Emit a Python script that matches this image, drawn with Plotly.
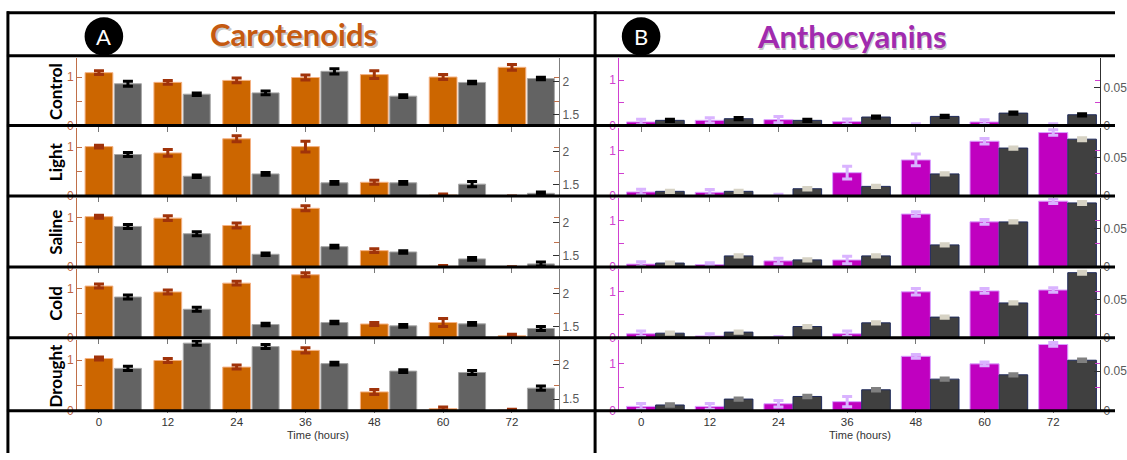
import plotly.graph_objects as go

W, H = 1127, 460

times = [0, 12, 24, 36, 48, 60, 72]
conditions = ["Control", "Light", "Saline", "Cold", "Drought"]
time_labels = ["0", "12", "24", "36", "48", "60", "72"]

# Panel A - carotenoids (orange, left axis) and grey series (right axis)
car_vals = [
    [1.09, 0.89, 0.93, 0.99, 1.05, 1.00, 1.20],
    [1.01, 0.88, 1.17, 1.01, 0.28, 0.02, 0.00],
    [1.02, 0.99, 0.84, 1.19, 0.33, 0.01, 0.00],
    [1.05, 0.93, 1.11, 1.28, 0.28, 0.31, 0.04],
    [1.03, 0.99, 0.86, 1.19, 0.37, 0.04, 0.01],
]
car_errs = [
    [0.04, 0.04, 0.05, 0.05, 0.08, 0.05, 0.06],
    [0.03, 0.07, 0.06, 0.11, 0.04, 0.02, 0.00],
    [0.03, 0.05, 0.05, 0.05, 0.04, 0.02, 0.00],
    [0.04, 0.04, 0.04, 0.04, 0.03, 0.08, 0.03],
    [0.03, 0.04, 0.04, 0.05, 0.05, 0.03, 0.02],
]
car_grey = [
    [1.97, 1.81, 1.83, 2.16, 1.78, 1.99, 2.05],
    [1.96, 1.63, 1.665, 1.53, 1.53, 1.51, 1.37],
    [1.94, 1.83, 1.52, 1.635, 1.555, 1.45, 1.375],
    [1.945, 1.76, 1.53, 1.56, 1.51, 1.54, 1.47],
    [1.95, 2.32, 2.27, 2.02, 1.91, 1.89, 1.66],
]
car_grey_errs = [
    [0.04, 0.02, 0.03, 0.04, 0.02, 0.02, 0.02],
    [0.03, 0.02, 0.02, 0.02, 0.02, 0.04, 0.02],
    [0.03, 0.03, 0.02, 0.02, 0.02, 0.02, 0.03],
    [0.03, 0.03, 0.02, 0.02, 0.02, 0.02, 0.03],
    [0.03, 0.03, 0.03, 0.02, 0.02, 0.03, 0.03],
]

# Panel B - anthocyanins (magenta, left axis) and dark series (right axis)
anth_vals = [
    [0.08, 0.115, 0.13, 0.087, 0.01, 0.08, 0.01],
    [0.087, 0.08, 0.01, 0.51, 0.79, 1.20, 1.39],
    [0.06, 0.05, 0.13, 0.15, 1.15, 0.98, 1.43],
    [0.087, 0.04, 0.01, 0.087, 1.00, 1.02, 1.04],
    [0.09, 0.09, 0.146, 0.19, 1.15, 0.99, 1.40],
]
anth_errs = [
    [0.06, 0.06, 0.07, 0.06, 0.03, 0.05, 0.03],
    [0.06, 0.06, 0.03, 0.14, 0.13, 0.06, 0.06],
    [0.05, 0.04, 0.06, 0.08, 0.05, 0.05, 0.05],
    [0.06, 0.05, 0.02, 0.06, 0.07, 0.05, 0.05],
    [0.06, 0.06, 0.07, 0.11, 0.04, 0.04, 0.04],
]
anth_grey = [
    [0.0069, 0.0091, 0.0069, 0.0113, 0.0121, 0.0165, 0.0143],
    [0.0061, 0.0061, 0.0095, 0.0126, 0.029, 0.063, 0.0747],
    [0.005, 0.0143, 0.0091, 0.0143, 0.0287, 0.0587, 0.0835],
    [0.006, 0.0074, 0.0147, 0.0195, 0.027, 0.0455, 0.085],
    [0.0072, 0.0147, 0.018, 0.0265, 0.04, 0.0455, 0.064],
]
anth_grey_errs = [
    [0.0015, 0.0015, 0.0015, 0.0015, 0.0015, 0.0015, 0.0015],
    [0.0015, 0.0015, 0.0015, 0.0015, 0.0015, 0.0015, 0.002],
    [0.0015, 0.0015, 0.0015, 0.0015, 0.0015, 0.0015, 0.002],
    [0.0015, 0.0015, 0.0015, 0.0015, 0.0015, 0.0015, 0.002],
    [0.0015, 0.0015, 0.0015, 0.0015, 0.0015, 0.0015, 0.0015],
]
anth_grey_err_colors = ["#000000", "#D6D2C4", "#D6D2C4", "#D6D2C4", "#808080"]

ORANGE = "#CC6600"
ORANGE_AX = "#C0704A"
MAGENTA = "#C000C0"
MAGENTA_AX = "#D040D0"
TFONT = "Liberation Sans, Arial, sans-serif"


def px_x(v):
    return v / W


def px_y(v):
    return 1 - v / H


row_lines = [56.5, 127.5, 199, 271, 343, 417]
xA = (78, 565)
xB = (626, 1112)

fig = go.Figure()
layout = {}


def axname(prefix, k):
    return prefix if k == 1 else f"{prefix}{k}"


for r in range(5):
    top = row_lines[r] + 2
    bot = row_lines[r + 1]
    ydom = [px_y(bot), px_y(top)]
    for p in range(2):
        k = r * 2 + p + 1
        k2 = k + 10
        xr = axname("x", k)
        yr = axname("y", k)
        yr2 = axname("y", k2)
        xdom = xA if p == 0 else xB
        if p == 0:
            v, e, g, ge = car_vals[r], car_errs[r], car_grey[r], car_grey_errs[r]
            fig.add_trace(go.Bar(
                x=times, y=v, xaxis=xr, yaxis=yr, width=4.84, offset=-2.42,
                marker=dict(color=ORANGE, line=dict(color="#F4B183", width=1)),
                error_y=dict(type="data", array=e, color="#A0330A", thickness=3, width=5),
                showlegend=False, hoverinfo="skip"))
            fig.add_trace(go.Bar(
                x=times, y=g, xaxis=xr, yaxis=yr2, width=4.7, offset=2.7,
                marker=dict(color="#636363", line=dict(color="#A6A6A6", width=1)),
                error_y=dict(type="data", array=ge, color="#000000", thickness=3, width=5),
                showlegend=False, hoverinfo="skip"))
            yl = dict(range=[0, 1.4], tickvals=[0, 0.5, 1], ticktext=["0", "", "1"],
                      linecolor=ORANGE_AX, tickcolor=ORANGE_AX,
                      tickfont=dict(family=TFONT, size=12, color="#C0643C"))
            yr_cfg = dict(range=[1.33, 2.37], tickvals=[1.5, 2], ticktext=["1.5", "2"],
                          linecolor="#7F7F7F", tickcolor="#303030",
                          tickfont=dict(family=TFONT, size=12, color="#595959"))
        else:
            v, e, g, ge = anth_vals[r], anth_errs[r], anth_grey[r], anth_grey_errs[r]
            fig.add_trace(go.Bar(
                x=times, y=v, xaxis=xr, yaxis=yr, width=5.08, offset=-2.54,
                marker=dict(color=MAGENTA, line=dict(color="#D9A0FF", width=1)),
                error_y=dict(type="data", array=e, color="#D9B3FF", thickness=3, width=5),
                showlegend=False, hoverinfo="skip"))
            fig.add_trace(go.Bar(
                x=times, y=g, xaxis=xr, yaxis=yr2, width=5.0, offset=2.54,
                marker=dict(color="#404040", line=dict(color="#1F2A5A", width=1)),
                error_y=dict(type="data", array=ge, color=anth_grey_err_colors[r], thickness=3, width=5),
                showlegend=False, hoverinfo="skip"))
            yl = dict(range=[0, 1.5], tickvals=[0, 0.5, 1], ticktext=["0", "", "1"],
                      linecolor=MAGENTA_AX, tickcolor=MAGENTA_AX,
                      tickfont=dict(family=TFONT, size=12, color="#D040D0"))
            yr_cfg = dict(range=[0, 0.09], tickvals=[0, 0.05], ticktext=["0", "0.05"],
                          linecolor="#303030", tickcolor="#303030",
                          tickfont=dict(family=TFONT, size=12, color="#595959"))

        bottom_row = (r == 4)
        layout[axname("xaxis", k)] = dict(
            domain=[px_x(xdom[0]), px_x(xdom[1])], range=[-3.8, 80.2], anchor=yr,
            tickvals=times, ticktext=time_labels, ticks="outside",
            ticklen=1 if bottom_row else 5, tickcolor="#777777",
            showticklabels=bottom_row, showline=False, showgrid=False, zeroline=False,
            tickfont=dict(family=TFONT, size=11.5, color="#333333"),
            fixedrange=True)
        layout[axname("yaxis", k)] = dict(
            domain=ydom, anchor=xr, ticks="inside", ticklen=5, showline=True, linewidth=1,
            mirror="ticks", showgrid=False, zeroline=False, fixedrange=True, **yl)
        layout[axname("yaxis", k2)] = dict(
            overlaying=yr, side="right", anchor=xr, ticks="inside", ticklen=6, showline=True,
            linewidth=1, showgrid=False, zeroline=False, fixedrange=True, **yr_cfg)

annotations = []
for r in range(5):
    yc = (row_lines[r] + 2 + row_lines[r + 1]) / 2
    annotations.append(dict(text=f"<b>{conditions[r]}</b>", x=px_x(56), y=px_y(yc), xref="paper",
                            yref="paper", showarrow=False, textangle=-90,
                            font=dict(family="Lato, sans-serif", size=17, color="#000000"),
                            xanchor="center", yanchor="middle"))

for cx, label in [((xA[0] + xA[1]) / 2, "Time (hours)"), ((xB[0] + xB[1]) / 2, "Time (hours)")]:
    annotations.append(dict(text=label, x=px_x(cx), y=px_y(441.5), xref="paper", yref="paper",
                            showarrow=False, xanchor="center", yanchor="middle",
                            font=dict(family=TFONT, size=11, color="#333333")))

# Titles with subtle shadow
for txt, cx, cy, col in [("Carotenoids", 297, 35, "#C55A11"), ("Anthocyanins", 861, 37, "#A12BAF")]:
    annotations.append(dict(text=f"<b>{txt}</b>", x=px_x(cx + 1.5), y=px_y(cy + 1.5), xref="paper",
                            yref="paper", showarrow=False, xanchor="center", yanchor="middle",
                            font=dict(family="Lato, sans-serif", size=31, color="rgba(0,0,0,0.22)")))
    annotations.append(dict(text=f"<b>{txt}</b>", x=px_x(cx), y=px_y(cy), xref="paper",
                            yref="paper", showarrow=False, xanchor="center", yanchor="middle",
                            font=dict(family="Lato, sans-serif", size=31, color=col)))

for cx, letter in [(105, "A"), (648, "B")]:
    annotations.append(dict(text=letter, x=px_x(cx), y=px_y(37), xref="paper", yref="paper",
                            showarrow=False, xanchor="center", yanchor="middle",
                            font=dict(family="Lato, sans-serif", size=22, color="#FFFFFF")))

shapes = []
for cx in [105, 648]:
    shapes.append(dict(type="circle", xref="paper", yref="paper", layer="above",
                       x0=px_x(cx - 19.5), x1=px_x(cx + 19.5), y0=px_y(56.5), y1=px_y(17.5),
                       fillcolor="#000000", line=dict(width=0)))
for yl_ in [13] + row_lines:
    shapes.append(dict(type="line", xref="paper", yref="paper", layer="above",
                       x0=px_x(7), x1=px_x(1127), y0=px_y(yl_), y1=px_y(yl_),
                       line=dict(color="#000000", width=3)))
for xl in [8, 601.5]:
    shapes.append(dict(type="line", xref="paper", yref="paper", layer="above",
                       x0=px_x(xl), x1=px_x(xl), y0=px_y(11.5), y1=px_y(460),
                       line=dict(color="#000000", width=3)))

fig.update_layout(
    width=W, height=H, margin=dict(l=0, r=0, t=0, b=0),
    paper_bgcolor="white", plot_bgcolor="rgba(0,0,0,0)",
    barmode="overlay", showlegend=False,
    annotations=annotations, shapes=shapes, **layout)

fig.write_html("out.html", config={"displayModeBar": False})
